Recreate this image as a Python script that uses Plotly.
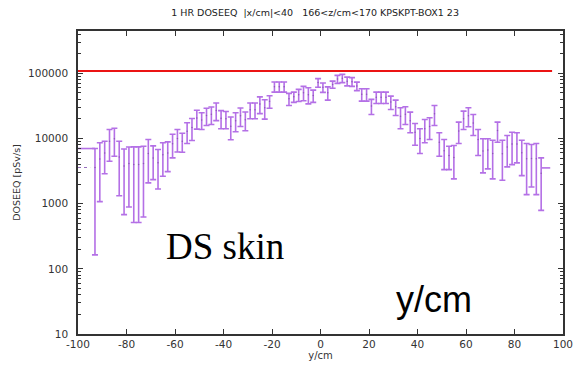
import plotly.graph_objects as go

# ---------------- data ----------------
y_cm = [-93, -91, -89, -87, -85, -83, -81, -79, -77, -75, -73, -71, -69, -67, -65, -63,
        -61, -59, -57, -55, -53, -51, -49, -47, -45, -43, -41, -39, -37, -35, -33, -31,
        -29, -27, -25, -23, -21, -19, -17, -15, -13, -11, -9, -7, -5, -3, -1, 1,
        3, 5, 7, 9, 11, 13, 15, 17, 19, 21, 23, 25, 27, 29, 31, 33,
        35, 37, 39, 41, 43, 45, 47, 49, 51, 53, 55, 57, 59, 61, 63, 65,
        67, 69, 71, 73, 75, 77, 79, 81, 83, 85, 87, 89, 91]
dose = [3592, 4832, 5982, 9119, 9875, 5193, 3789, 4145, 3983, 3983, 4122, 5866, 5030, 4232, 5610, 5998,
        8345, 9980, 9085, 12905, 14815, 20560, 19305, 22500, 23470, 26915, 20435, 20065, 15490, 18785, 22345, 19385,
        27565, 27565, 33800, 29605, 37275, 62525, 62525, 62525, 40705, 43680, 46910, 50495, 47110, 45575, 72125, 61005,
        50420, 67650, 81650, 84220, 75810, 74500, 63830, 47830, 47830, 31605, 43050, 43050, 43050, 36355, 30715, 21885,
        23575, 18815, 12455, 9988, 14095, 15235, 24015, 8795, 6492, 5477, 5102, 13095, 20030, 22405, 17260, 9620,
        6431, 6658, 5910, 13295, 5852, 7396, 8240, 8233, 6059, 4873, 4949, 4873, 2920]
err = [3428, 3758, 3108, 4641, 4525, 3867, 3111, 3256, 3468, 3468, 3498, 3784, 2690, 2548, 2980, 2893,
       3295, 3780, 2935, 4535, 5505, 6600, 5545, 6650, 7050, 8125, 6335, 5965, 5940, 6065, 7035, 6205,
       7475, 7475, 9700, 9785, 8125, 10975, 10975, 10975, 8525, 7870, 9840, 12605, 13150, 9765, 10775, 9955,
       11580, 8450, 11450, 12280, 11590, 11400, 9450, 10330, 10330, 8205, 8500, 8500, 8500, 8415, 8125, 7785,
       7155, 6575, 4565, 4113, 5505, 5585, 8165, 3445, 3158, 2143, 2703, 4725, 6270, 7265, 6140, 4140,
       3464, 3238, 3510, 4525, 3568, 3724, 4260, 4007, 3361, 3497, 3142, 3497, 2130]

# edge bits near the borders
edge_top_x = [-100, -93]
edge_top_y = [7020, 7020]
edge_dot_x = [-100, -95]
edge_dot_y = [3592, 3592]
last_x = [93]
last_y = [3540]

# limit line
limit_x = [-100, 95.5]
limit_y = [108400, 108400]

title_text = "1 HR DOSEEQ\u00a0\u00a0|x/cm|<40\u00a0\u00a0\u00a0166<z/cm<170 KPSKPT-BOX1 23"
x_ticks = [-100, -80, -60, -40, -20, 0, 20, 40, 60, 80, 100]
x_tick_text = ["-100", "-80", "-60", "-40", "-20", "0", "20", "40", "60", "80", "100"]
y_ticks = [10, 100, 1000, 10000, 100000]
y_tick_text = ["10", "100", "1000", "10000", "100000"]

purple = "rgb(180,112,230)"
axis_col = "#333333"

fig = go.Figure()

fig.add_trace(go.Scatter(
    x=y_cm, y=dose, mode="markers",
    marker=dict(size=1.5, color="rgb(140,90,180)"),
    error_y=dict(type="data", array=err, symmetric=True, color=purple,
                 thickness=1.6, width=3),
    hoverinfo="skip", showlegend=False))

fig.add_trace(go.Scatter(x=edge_top_x, y=edge_top_y, mode="lines",
                         line=dict(color=purple, width=1.6), showlegend=False))
fig.add_trace(go.Scatter(x=edge_dot_x, y=edge_dot_y, mode="lines",
                         line=dict(color="rgb(150,110,190)", width=1, dash="dot"),
                         showlegend=False))
fig.add_trace(go.Scatter(x=last_x, y=last_y, mode="markers",
                         marker=dict(symbol="line-ew", size=6,
                                     line=dict(color=purple, width=1.6)),
                         showlegend=False))
fig.add_trace(go.Scatter(x=limit_x, y=limit_y, mode="lines",
                         line=dict(color="rgb(235,20,20)", width=2), showlegend=False))

minor_vals = [m * 10 ** e for e in range(1, 6) for m in range(2, 10)]

fig.update_layout(
    width=575, height=367,
    margin=dict(l=78, r=12, t=31, b=33),
    paper_bgcolor="white", plot_bgcolor="white",
    font=dict(family="DejaVu Sans", size=10, color=axis_col),
    title=dict(text=title_text, x=0.548, xanchor="center", y=0.965, yanchor="middle",
               font=dict(size=9.5, color="#222222")),
    xaxis=dict(range=[-100, 100], tickvals=x_ticks, ticktext=x_tick_text,
               showgrid=False, zeroline=False, automargin=False,
               showline=True, linecolor=axis_col, linewidth=1.5, mirror="allticks",
               ticks="inside", ticklen=5, tickcolor=axis_col, tickwidth=1,
               tickfont=dict(size=10.5, color=axis_col),
               title=dict(text="y/cm", font=dict(size=10, color=axis_col), standoff=2)),
    yaxis=dict(type="log", range=[1, 5.65], tickvals=y_ticks, ticktext=y_tick_text,
               showgrid=False, zeroline=False, automargin=False,
               showline=True, linecolor=axis_col, linewidth=1.5, mirror="allticks",
               ticks="inside", ticklen=5, tickcolor=axis_col, tickwidth=1,
               ticklabelstandoff=6,
               tickfont=dict(size=10.5, color=axis_col),
               minor=dict(tickvals=minor_vals, ticks="inside", ticklen=3,
                          tickcolor=axis_col, tickwidth=1),
               title=dict(text="DOSEEQ [pSv/s]", font=dict(size=9.5, color=axis_col),
                          standoff=6)),
    annotations=[
        dict(text="DS skin", xref="paper", yref="paper", x=0.178, y=0.29,
             xanchor="left", yanchor="middle", showarrow=False,
             font=dict(family="Liberation Serif", size=37, color="black")),
        dict(text="y/cm", xref="paper", yref="paper", x=0.652, y=0.115,
             xanchor="left", yanchor="middle", showarrow=False,
             font=dict(family="Liberation Sans", size=36, color="black")),
    ],
)

fig.write_html("out.html")
